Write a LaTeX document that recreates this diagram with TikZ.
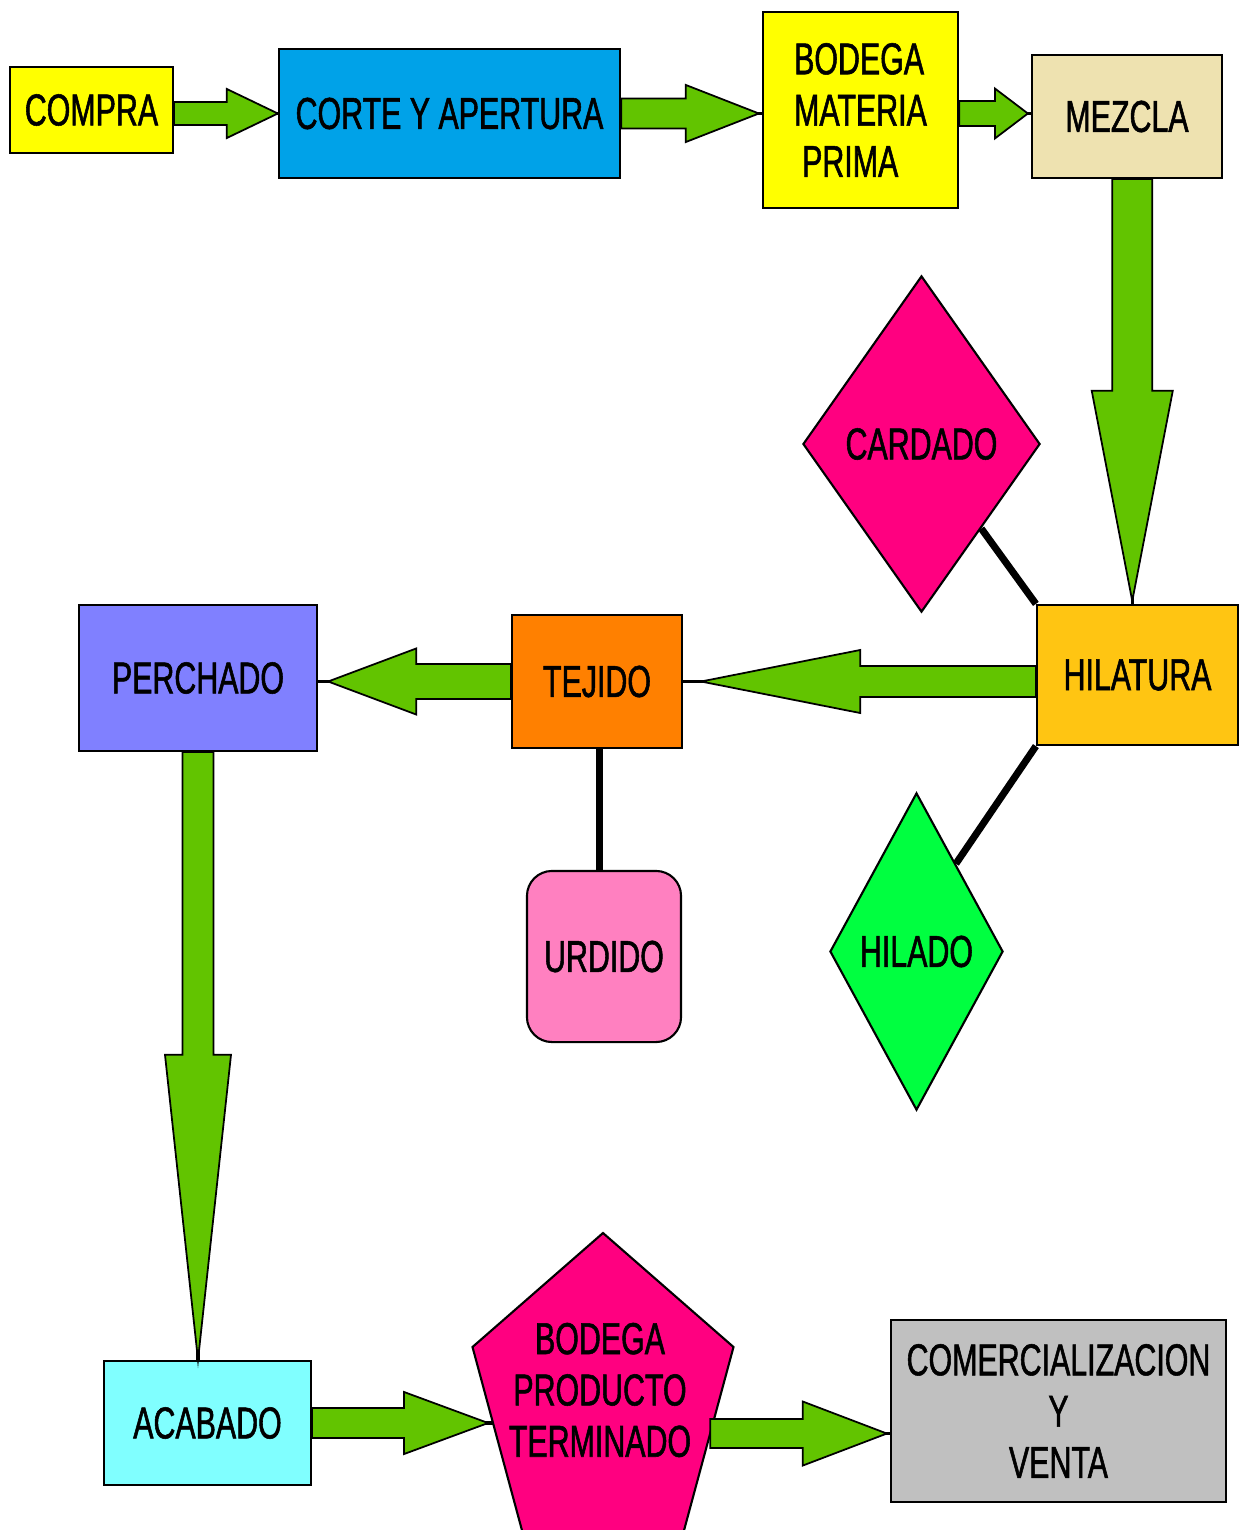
\documentclass[tikz,border=0pt]{standalone}
\usepackage{fontspec}
\setmainfont{Liberation Sans}[FakeStretch=0.68, FakeBold=1.2]
\usetikzlibrary{calc,shapes.geometric}
\definecolor{verde}{HTML}{62C400}
\definecolor{amarillo}{HTML}{FFFF00}
\definecolor{celeste}{HTML}{00A2E8}
\definecolor{crema}{HTML}{EEE2B0}
\definecolor{fucsia}{HTML}{FF0080}
\definecolor{ocre}{HTML}{FFC512}
\definecolor{lima}{HTML}{00FF40}
\definecolor{naranja}{HTML}{FF8000}
\definecolor{rosa}{HTML}{FF80C0}
\definecolor{lila}{HTML}{8080FF}
\definecolor{aguamarina}{HTML}{80FFFF}
\definecolor{gris}{HTML}{C0C0C0}
\newcommand\rotulo{\fontsize{12.7}{14.6}\selectfont}
\tikzset{
  caja/.style={draw, line width=0.6pt, inner sep=0pt, align=center, font=\rotulo},
  rombo/.style={caja, diamond},
  flechaverde/.style={draw, line width=0.5pt, fill=verde, line join=miter},
  enlace/.style={line width=0.9pt},
  union/.style={line width=2pt},
}
% flecha gruesa: desde, hasta, medio ancho, medio ancho punta, largo punta, hueco
\newcommand\flecha[6]{%
  \coordinate (fa) at (#1);
  \coordinate (fp) at ($(#2)!#6!(fa)$);
  \coordinate (fb) at ($(fp)!#5!(fa)$);
  \draw[enlace] (fa) -- (#2);
  \draw[flechaverde] ($(fa)!#3!90:(fp)$) -- ($(fb)!#3!90:(fp)$) -- ($(fb)!#4!90:(fp)$)
    -- (fp) -- ($(fb)!#4!-90:(fp)$) -- ($(fb)!#3!-90:(fp)$) -- ($(fa)!#3!-90:(fp)$) -- cycle;
}
\begin{document}
\begin{tikzpicture}[x=0.01cm, y=-0.01cm]
\fill[white] (0,0) rectangle (1242,1530);
\useasboundingbox (0,0) rectangle (1242,1530);

% fila de arriba
\node[caja, fill=amarillo, minimum width=1.63cm, minimum height=0.86cm] (compra) at (91.5,110) {COMPRA};
\node[caja, fill=celeste, minimum width=3.41cm, minimum height=1.29cm] (corte) at (449.5,113.5) {CORTE Y APERTURA};
\node[caja, fill=amarillo, minimum width=1.95cm, minimum height=1.96cm, align=left] (bodega) at (860.5,110) {BODEGA\\MATERIA\\\hspace*{0.08cm}PRIMA};
\node[caja, fill=crema, minimum width=1.90cm, minimum height=1.23cm] (mezcla) at (1127,116.5) {MEZCLA};

% centro
\node[rombo, fill=fucsia, minimum width=2.37cm, minimum height=3.36cm] (cardado) at (921.5,444) {CARDADO};
\node[caja, fill=ocre, minimum width=2.01cm, minimum height=1.40cm] (hilatura) at (1137.5,675) {HILATURA};
\node[rombo, fill=lima, minimum width=1.73cm, minimum height=3.17cm] (hilado) at (916.5,951.5) {HILADO};
\node[caja, fill=naranja, minimum width=1.70cm, minimum height=1.33cm] (tejido) at (597,681.5) {TEJIDO};
\node[caja, fill=rosa, minimum width=1.54cm, minimum height=1.71cm, rounded corners=0.25cm] (urdido) at (604,956.5) {URDIDO};
\node[caja, fill=lila, minimum width=2.38cm, minimum height=1.46cm] (perchado) at (198,678) {PERCHADO};

% fila de abajo
\node[caja, fill=aguamarina, minimum width=2.07cm, minimum height=1.24cm] (acabado) at (207.5,1423) {ACABADO};
\coordinate (bpc) at (603,1398);
\draw[line width=0.6pt, fill=fucsia] ($(bpc)+(0,-165)$) -- ($(bpc)+(-130.5,-51)$) coordinate (psi)
  -- ($(bpc)+(-80.7,133.5)$) coordinate (pii) -- ($(bpc)+(80.7,133.5)$) coordinate (pid)
  -- ($(bpc)+(130.5,-51)$) coordinate (psd) -- cycle;
\node[font=\rotulo, align=center] (bodegap) at (600,1390) {BODEGA\\PRODUCTO\\TERMINADO};
\coordinate (bpw) at ($(psi)!.414!(pii)$);
\coordinate (bpe) at ($(psd)!.469!(pid)$);
\node[caja, fill=gris, minimum width=3.35cm, minimum height=1.82cm] (comerc) at (1058.5,1411) {COMERCIALIZACION\\Y\\VENTA};

% uniones negras
\draw[union] ($(cardado.east)!.5!(cardado.south)$) -- (hilatura.north west);
\draw[union] (hilatura.south west) -- ($(hilado.north)!.45!(hilado.east)$);
\coordinate (tu) at ($(tejido.south)!.3!(tejido.south -| urdido.north)$);
\draw[union] (tu) -- (tu |- urdido.north);

% flechas verdes
\coordinate (mz) at ($(mezcla.south)!.5!(mezcla.south -| hilatura.north)$);
\flecha{compra.east |- corte.west}{corte.west}{0.115cm}{0.245cm}{0.51cm}{0pt}
\flecha{corte.east}{corte.east -| bodega.west}{0.15cm}{0.285cm}{0.73cm}{0.03cm}
\flecha{bodega.east |- corte.east}{mezcla.west |- corte.east}{0.125cm}{0.25cm}{0.33cm}{0.03cm}
\flecha{mz}{mz |- hilatura.north}{0.20cm}{0.405cm}{2.10cm}{0.03cm}
\flecha{hilatura.west |- tejido.east}{tejido.east}{0.155cm}{0.315cm}{1.59cm}{0.18cm}
\flecha{tejido.west}{tejido.west -| perchado.east}{0.175cm}{0.33cm}{0.88cm}{0.10cm}
\flecha{perchado.south}{perchado.south |- acabado.north}{0.155cm}{0.33cm}{3.05cm}{0pt}
\flecha{acabado.east}{acabado.east -| bpw}{0.15cm}{0.31cm}{0.84cm}{0.05cm}
\flecha{bpe}{bpe -| comerc.west}{0.145cm}{0.32cm}{0.84cm}{0.03cm}
\end{tikzpicture}
\end{document}
